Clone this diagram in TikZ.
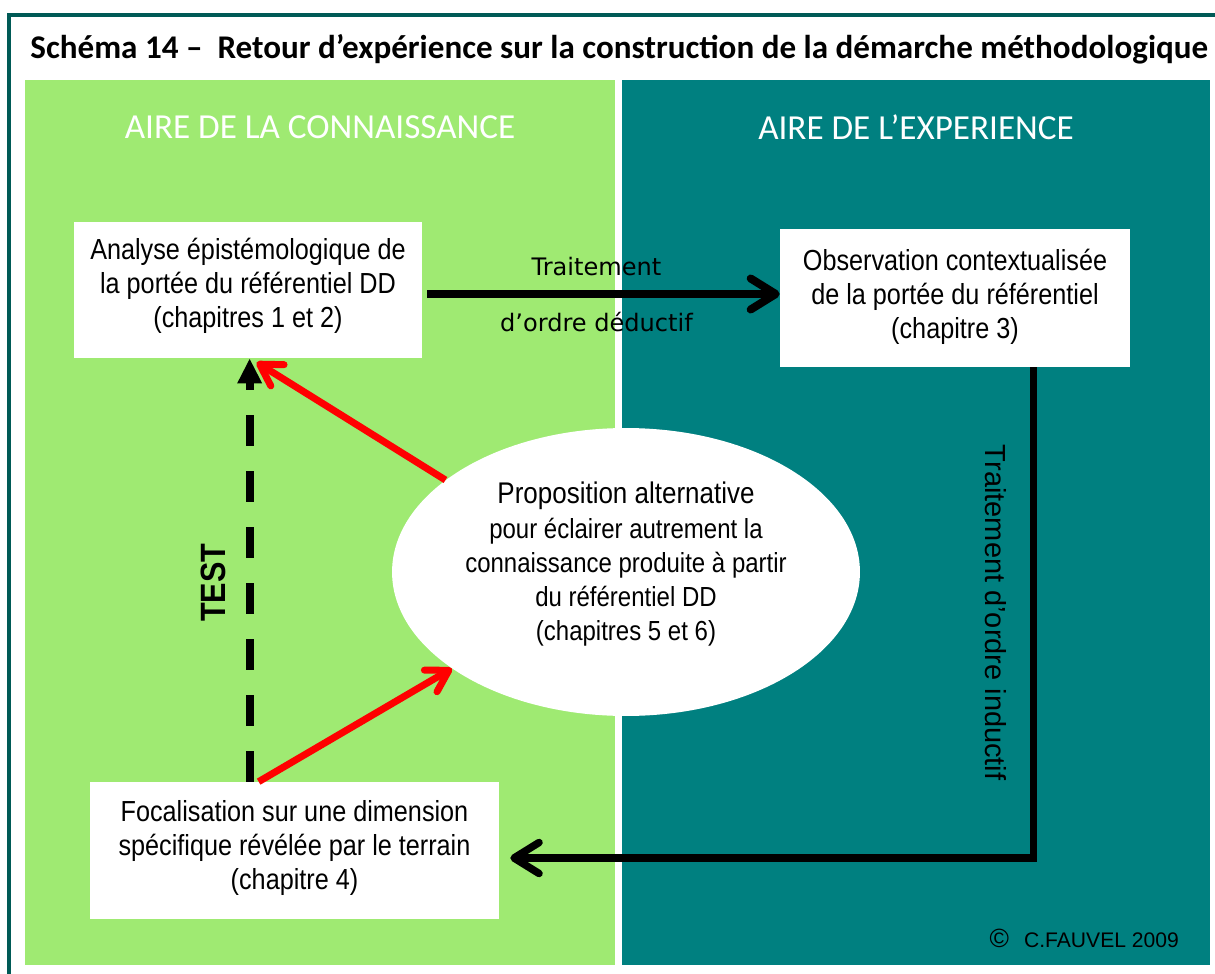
\documentclass[tikz,border=0pt]{standalone}
\usepackage{fontspec}
\usepackage{graphicx}
\setmainfont{Liberation Sans}
\newfontfamily\narrowfont{Liberation Sans}[FakeStretch=0.87]
\newfontfamily\gillfont{Carlito}
\newfontfamily\labelfont{DejaVu Sans}
\usetikzlibrary{arrows.meta,shapes.geometric}

\definecolor{areagreen}{RGB}{159,234,114}
\definecolor{areateal}{RGB}{0,128,128}
\definecolor{frameteal}{RGB}{0,90,86}

\begin{document}
\begin{tikzpicture}[x=0.02cm, y=-0.02cm,
  box/.style={fill=white, inner sep=0pt, align=center, font=\narrowfont\fontsize{16.5}{19.5}\selectfont},
  area/.style={text=white, font=\gillfont\fontsize{20}{24}\selectfont},
  flow/.style={line width=0.16cm, -{Straight Barb[length=0.5cm, width=0.62cm, round]}},
  feedback/.style={red, line width=0.14cm, -{Straight Barb[length=0.42cm, width=0.5cm, round]}},
  testline/.style={line width=0.16cm, dash pattern=on 0.62cm off 0.5cm, -{Triangle[length=0.5cm, width=0.46cm]}}]
  \fill[white] (0,0) rectangle (1215,974);
  \useasboundingbox (0,0) rectangle (1215,974);
  \draw[frameteal, line width=0.08cm] (9,974) -- (9,15) -- (1215,15);
  \node[anchor=base west, inner sep=0pt] (title) at (30,58)
    {\resizebox{23.56cm}{!}{\gillfont\bfseries Schéma 14 –\ \ Retour d’expérience sur la construction de la démarche méthodologique}};

  % the two areas
  \fill[areagreen] (25,80) rectangle (615,965);
  \fill[areateal] (622,80) rectangle (1210,965);
  \node[area] (know) at (320,127) {AIRE DE LA CONNAISSANCE};
  \node[area] (exper) at (916,127) {AIRE DE L’EXPERIENCE};

  \node[box, minimum width=6.96cm, text height=2.12cm, text depth=0.6cm] (analyse) at (248,290)
    {Analyse épistémologique de\\la portée du référentiel DD\\(chapitres 1 et 2)};
  \node[box, minimum width=7cm, text height=2.2cm, text depth=0.56cm] (observ) at (955,298)
    {Observation contextualisée\\de la portée du référentiel\\(chapitre 3)};
  \node[box, minimum width=8.18cm, text height=2.16cm, text depth=0.58cm] (focal) at (294.5,850.5)
    {Focalisation sur une dimension\\spécifique révélée par le terrain\\(chapitre 4)};
  \node[ellipse, fill=white, inner sep=0pt, minimum width=9.36cm, minimum height=5.76cm, align=center,
        text height=2.76cm, text depth=0pt,
        font=\narrowfont\fontsize{15.7}{19.5}\selectfont] (propos) at (626,572)
    {{\fontsize{17}{19.5}\selectfont Proposition alternative}\\pour éclairer autrement la\\connaissance produite à partir\\du référentiel DD\\(chapitres 5 et 6)};

  % black arrows
  \coordinate (deduc) at ([shift={(0.1cm,-0.08cm)}]analyse.east);
  \draw[flow] (deduc) -- (deduc -| observ.west)
    node[pos=0.48, above=0.28cm, inner sep=0pt, font=\labelfont\fontsize{13.7}{16}\selectfont] {Traitement}
    node[pos=0.48, below=0.28cm, inner sep=0pt, font=\labelfont\fontsize{13.7}{16}\selectfont] {d’ordre déductif};
  \draw[flow, line width=0.15cm] ([xshift=-1.94cm]observ.south east) |- ([shift={(0.22cm,-0.15cm)}]focal.east)
    node[pos=0.25, xshift=-0.74cm, rotate=-90, font=\fontsize{16.5}{19}\selectfont] {Traitement d’ordre inductif};

  \coordinate (testfoot) at ([xshift=3.2cm]focal.north west);
  \draw[testline] (testfoot) -- (testfoot |- analyse.south)
    node[pos=0.47, xshift=-0.73cm, rotate=90, font=\narrowfont\bfseries\fontsize{20}{24}\selectfont] {TEST};

  % red arrows
  \draw[feedback] (propos.153) -- ([shift={(3.66cm,-0.08cm)}]analyse.south west);
  \draw[feedback] ([xshift=3.38cm]focal.north west) -- (propos.209);

  \node[anchor=base east, font=\fontsize{12}{14}\selectfont] (copy) at (1185,947)
    {{\fontsize{15}{15}\selectfont ©}\hspace{0.3cm}C.FAUVEL 2009};
\end{tikzpicture}
\end{document}
